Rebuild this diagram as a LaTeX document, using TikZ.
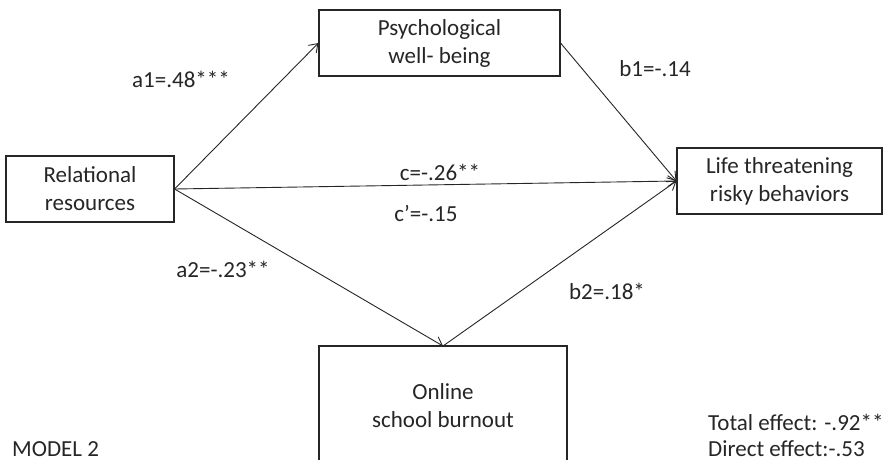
\documentclass[tikz,border=0pt]{standalone}
\usepackage{fontspec}
\setmainfont{Carlito}
\usetikzlibrary{arrows.meta}
\begin{document}
\begin{tikzpicture}[x=1pt,y=-1pt,
  font=\fontsize{23}{28}\selectfont,
  box/.style={draw=black!85,line width=1.1pt,align=center,inner sep=0pt,text=black!85},
  arr/.style={draw=black!85,line width=0.9pt,-{Straight Barb[length=8pt,width=11pt]}},
  lbl/.style={text=black!85,inner sep=0pt,anchor=base}]
\useasboundingbox (0,0) rectangle (883,460);
\clip (0,0) rectangle (883,460);
\fill[white] (0,0) rectangle (883,460);
\node[box,minimum width=241pt,minimum height=66pt] (pw) at (439.5,43) {Psychological\\well- being};
\node[box,minimum width=168pt,minimum height=66pt] (rr) at (90,189) {Relational\\resources};
\node[box,minimum width=205pt,minimum height=66pt] (lt) at (779.5,181) {Life threatening\\risky behaviors};
\draw[draw=black!85,line width=2.4pt] (319,480) |- (567,346) -- (567,480);
\coordinate (ob) at (443,346);
\node[text=black!85,align=center,inner sep=0pt] at (443,406) {Online\\school burnout};
\draw[arr] (rr.east) -- (pw.west);
\draw[arr] (rr.east) -- (lt.west);
\draw[arr] (rr.east) -- (ob);
\draw[arr] (pw.east) -- (lt.west);
\draw[arr] (ob) -- (lt.west);
\node[lbl] at (181,88) {a1=.48***};
\node[lbl] at (655,76) {b1=-.14};
\node[lbl] at (440,180) {c=-.26**};
\node[lbl] at (426,221) {c\textquoteright=-.15};
\node[lbl] at (223,277) {a2=-.23**};
\node[lbl] at (607,299) {b2=.18*};
\node[lbl,anchor=base west] at (708,430) {Total effect: -.92**};
\node[lbl,anchor=base west] at (708,456) {Direct effect:-.53};
\node[lbl,anchor=base west] at (12,456) {MODEL 2};
\end{tikzpicture}
\end{document}
